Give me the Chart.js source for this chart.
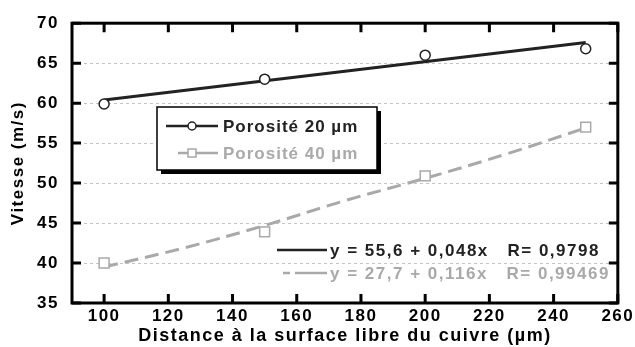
<!DOCTYPE html>
<html>
<head>
<meta charset="utf-8">
<script src="https://cdn.jsdelivr.net/npm/chart.js@4.4.1/dist/chart.umd.min.js"></script>
<style>
	html, body { margin: 0; padding: 0; background: #fff; }
	#wrap { width: 635px; height: 347px; }
</style>
</head>
<body>
<div id="wrap"><canvas id="vitesseChart" width="635" height="347"></canvas></div>
<script>
// measured points
const distances = [100, 150, 200, 250];
const vitesse20 = [59.9, 63.0, 66.0, 66.8];
const vitesse40 = [40.0, 43.9, 50.9, 57.0];

// fitted curves
const fit20X = [100, 250];
const fit20Y = [60.4, 67.6];
const fit40X = [100, 125, 150, 175, 200, 225, 250];
const fit40Y = [39.5, 41.9, 44.7, 47.8, 50.6, 53.6, 56.9];

const xTicks = [100, 120, 140, 160, 180, 200, 220, 240, 260];
const yTicks = [35, 40, 45, 50, 55, 60, 65, 70];

const legendLabels = ['Porosité 20 µm', 'Porosité 40 µm'];
const fitLabels = ['y = 55,6 + 0,048x   R= 0,9798', 'y = 27,7 + 0,116x   R= 0,99469'];

const dark = '#222222';
const grey = '#a9a9a9';
const font = 'Liberation Sans, Arial, sans-serif';

function pts(xs, ys) {
	return xs.map((x, i) => ({ x: x, y: ys[i] }));
}

// wide bold lettering everywhere
const spacing = {
	id: 'spacing',
	beforeDraw(chart) {
		chart.ctx.letterSpacing = '1.5px';
	}
};

// dotted horizontal grid
const dottedGrid = {
	id: 'dottedGrid',
	beforeDatasetsDraw(chart) {
		const ctx = chart.ctx;
		const a = chart.chartArea;
		const ys = chart.scales.y;
		ctx.save();
		ctx.strokeStyle = '#c4c4c4';
		ctx.lineWidth = 1;
		ctx.setLineDash([3, 3]);
		yTicks.slice(1, -1).forEach(v => {
			const py = Math.round(ys.getPixelForValue(v)) + 0.5;
			ctx.beginPath();
			ctx.moveTo(a.left, py); ctx.lineTo(a.right, py);
			ctx.stroke();
		});
		ctx.restore();
	}
};

// frame, inward ticks, legend box and fit labels
const decorations = {
	id: 'decorations',
	afterDatasetsDraw(chart) {
		const ctx = chart.ctx;
		const a = chart.chartArea;
		const xs = chart.scales.x;
		const ys = chart.scales.y;
		ctx.save();

		ctx.strokeStyle = '#000';
		ctx.lineWidth = 3;
		ctx.strokeRect(a.left, a.top, a.right - a.left, a.bottom - a.top);

		xTicks.forEach(v => {
			const px = xs.getPixelForValue(v);
			ctx.beginPath();
			ctx.moveTo(px, a.bottom); ctx.lineTo(px, a.bottom - 9);
			ctx.moveTo(px, a.top); ctx.lineTo(px, a.top + 9);
			ctx.stroke();
		});
		yTicks.forEach(v => {
			const py = ys.getPixelForValue(v);
			ctx.beginPath();
			ctx.moveTo(a.left, py); ctx.lineTo(a.left + 9, py);
			ctx.moveTo(a.right, py); ctx.lineTo(a.right - 9, py);
			ctx.stroke();
		});

		// legend box
		const bx = 157, by = 107, bw = 220, bh = 63;
		ctx.fillStyle = '#000';
		ctx.fillRect(bx + 4, by + 4, bw, bh);
		ctx.fillStyle = '#fff';
		ctx.fillRect(bx, by, bw, bh);
		ctx.lineWidth = 1.5;
		ctx.strokeStyle = '#000';
		ctx.strokeRect(bx, by, bw, bh);

		const rows = [
			{ y: 126, color: dark, x0: 166, marker: 'circle' },
			{ y: 153, color: grey, x0: 178, marker: 'square' }
		];
		ctx.font = 'bold 17px ' + font;
		ctx.letterSpacing = '1px';
		ctx.textBaseline = 'middle';
		rows.forEach((r, i) => {
			ctx.strokeStyle = r.color;
			ctx.lineWidth = 2.5;
			ctx.beginPath();
			ctx.moveTo(r.x0, r.y); ctx.lineTo(218, r.y);
			ctx.stroke();
			ctx.lineWidth = 1.5;
			ctx.fillStyle = '#fff';
			ctx.beginPath();
			if (r.marker === 'circle') {
				ctx.arc(192, r.y, 4, 0, Math.PI * 2);
			} else {
				ctx.rect(188, r.y - 4, 8, 8);
			}
			ctx.fill();
			ctx.stroke();
			ctx.fillStyle = r.color;
			ctx.fillText(legendLabels[i], 223, r.y + 1);
		});

		// fit equations
		ctx.letterSpacing = '1.5px';
		const fits = [
			{ y: 250, color: dark, pieces: [[277, 327]] },
			{ y: 273, color: grey, pieces: [[283, 290], [295, 327]] }
		];
		fits.forEach((f, i) => {
			ctx.strokeStyle = f.color;
			ctx.lineWidth = 2.5;
			f.pieces.forEach(p => {
				ctx.beginPath();
				ctx.moveTo(p[0], f.y); ctx.lineTo(p[1], f.y);
				ctx.stroke();
			});
			ctx.fillStyle = f.color;
			ctx.fillText(fitLabels[i], 330, f.y + 1);
		});

		ctx.restore();
	}
};

new Chart(document.getElementById('vitesseChart'), {
	type: 'scatter',
	data: {
		datasets: [
			{
				label: 'fit 20',
				type: 'line',
				data: pts(fit20X, fit20Y),
				borderColor: dark,
				borderWidth: 3,
				pointRadius: 0,
				fill: false,
				order: 2
			},
			{
				label: 'fit 40',
				type: 'line',
				data: pts(fit40X, fit40Y),
				borderColor: grey,
				borderWidth: 3,
				borderDash: [14, 7],
				tension: 0.4,
				pointRadius: 0,
				fill: false,
				order: 2
			},
			{
				label: legendLabels[0],
				data: pts(distances, vitesse20),
				pointStyle: 'circle',
				pointRadius: 5,
				pointBorderWidth: 1.5,
				borderColor: dark,
				backgroundColor: '#fff',
				order: 1
			},
			{
				label: legendLabels[1],
				data: pts(distances, vitesse40),
				pointStyle: 'rect',
				pointRadius: 7,
				pointBorderWidth: 1.5,
				borderColor: grey,
				backgroundColor: '#fff',
				order: 1
			}
		]
	},
	options: {
		responsive: false,
		animation: false,
		layout: { padding: { top: 21, right: 17, left: 0, bottom: 0 } },
		scales: {
			x: {
				type: 'linear',
				min: 90,
				max: 260,
				afterBuildTicks: s => { s.ticks = xTicks.map(v => ({ value: v })); },
				afterFit: s => { s.height = 44; },
				grid: { display: false, drawTicks: false },
				border: { display: false },
				ticks: { color: '#000', padding: 3, font: { family: font, size: 17, weight: 'bold' } },
				title: {
					display: true,
					text: 'Distance à la surface libre du cuivre (µm)',
					color: '#000',
					padding: { top: 2, bottom: 0 },
					font: { family: font, size: 18, weight: 'bold' }
				}
			},
			y: {
				min: 35,
				max: 70,
				afterBuildTicks: s => { s.ticks = yTicks.map(v => ({ value: v })); },
				afterFit: s => { s.width = 72; },
				grid: { display: false, drawTicks: false },
				border: { display: false },
				ticks: { color: '#000', padding: 13, font: { family: font, size: 17, weight: 'bold' } },
				title: {
					display: true,
					text: 'Vitesse (m/s)',
					color: '#000',
					padding: { top: 8, bottom: 0 },
					font: { family: font, size: 17, weight: 'bold' }
				}
			}
		},
		plugins: {
			legend: { display: false },
			tooltip: { enabled: false }
		}
	},
	plugins: [spacing, dottedGrid, decorations]
});
</script>
</body>
</html>
